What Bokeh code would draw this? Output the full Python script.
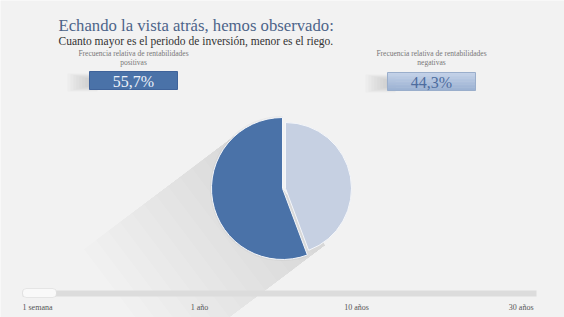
import math
from bokeh.plotting import figure
from bokeh.models import Range1d, Label, BoxAnnotation
from bokeh.embed import file_html
from bokeh.resources import INLINE

# ---- data ----
title_text = "Echando la vista atrás, hemos observado:"
subtitle_text = "Cuanto mayor es el periodo de inversión, menor es el riego."
categories = ["positivas", "negativas"]
category_caption = "Frecuencia relativa de rentabilidades"
shares = [55.7, 44.3]
share_labels = ["55,7%", "44,3%"]
slider_ticks = ["1 semana", "1 año", "10 años", "30 años"]

W, H = 564, 317
BG = "#f2f2f2"
FONT = "Liberation Serif"
DARK = "#4a72a8"
LIGHT = "#c6d0e2"


def Y(py):
    return H - py


p = figure(width=W, height=H, x_range=Range1d(0, W), y_range=Range1d(0, H),
           output_backend="svg", toolbar_location=None, min_border=0)
p.background_fill_color = BG
p.border_fill_color = BG
p.outline_line_color = None
p.axis.visible = False
p.grid.visible = False

# ---- titles ----
p.add_layout(Label(x=58, y=Y(25), text=title_text, text_font=FONT,
                   text_font_size="16.7px", text_color="#4d6489",
                   text_baseline="alphabetic"))
p.add_layout(Label(x=58, y=Y(40.5), text=subtitle_text, text_font=FONT,
                   text_font_size="11.5px", text_color="#333333",
                   text_baseline="alphabetic"))

# ---- indicator boxes ----
box_cx = [133, 431]
box_cy = [80, 81]
box_w, box_h = 88, 18
for i, cat in enumerate(categories):
    cx, cy = box_cx[i], box_cy[i]
    p.add_layout(Label(x=cx, y=Y(53), text=category_caption, text_font=FONT,
                       text_font_size="7.5px", text_color="#777777",
                       text_align="center", text_baseline="middle"))
    p.add_layout(Label(x=cx, y=Y(62), text=cat, text_font=FONT,
                       text_font_size="7.5px", text_color="#777777",
                       text_align="center", text_baseline="middle"))
    # soft shadow hugging the left edge
    for k in range(8):
        w = 30 - k * 3
        p.rect(x=cx - box_w / 2 - w / 2 + 8, y=Y(cy + 2), width=w,
               height=box_h - k * 1.5, fill_color="#7a7a7a", fill_alpha=0.04,
               line_color=None)
    if i == 0:
        p.rect(x=cx, y=Y(cy), width=box_w, height=box_h, fill_color=DARK,
               line_color="#3f639a", line_width=1)
        tcol = "#eef2fa"
    else:
        n = 12
        top = (0xc4, 0xd2, 0xe8)
        bot = (0x9c, 0xb2, 0xd3)
        for k in range(n):
            t = k / (n - 1)
            col = "#%02x%02x%02x" % tuple(int(top[j] + (bot[j] - top[j]) * t) for j in range(3))
            hh = box_h / n
            p.rect(x=cx, y=Y(cy - box_h / 2 + hh * (k + 0.5)), width=box_w, height=hh + 0.3,
                   fill_color=col, line_color=None)
        p.rect(x=cx, y=Y(cy), width=box_w, height=box_h, fill_color=None,
               line_color="#9aaecb", line_width=1)
        tcol = "#4d6c9e"
    p.add_layout(Label(x=cx, y=Y(cy + 1), text=share_labels[i], text_font=FONT,
                       text_font_size="16px", text_color=tcol,
                       text_align="center", text_baseline="middle"))

# ---- pie ----
pcx, pcy, R = 282, 188, 71
total = sum(shares)
angles = [s / total * 2 * math.pi for s in shares]
start = math.pi / 2
starts, ends = [], []
for a in angles:
    starts.append(start)
    ends.append(start + a)
    start += a

# long soft shadow toward lower-left
dang = math.radians(37)
d = (-math.cos(dang), -math.sin(dang))
perp = (math.sin(dang), -math.cos(dang))
a1 = (pcx + R * perp[0], Y(pcy) + R * perp[1])
a2 = (pcx - R * perp[0], Y(pcy) - R * perp[1])
for L in range(15, 196, 15):
    xs = [a1[0], a2[0], a2[0] + L * d[0], a1[0] + L * d[0]]
    ys = [a1[1], a2[1], a2[1] + L * d[1], a1[1] + L * d[1]]
    p.patch(xs, ys, fill_color="#7a7a7a", fill_alpha=0.013, line_color=None)
p.wedge(x=pcx, y=Y(pcy), radius=R + 1.5, start_angle=starts[0], end_angle=ends[0],
        fill_color="#909090", fill_alpha=0.10, line_color=None)

offsets = [(0, 0), (3, 0)]
radii = [R, 66]
colors = [DARK, LIGHT]
lines = ["#f4f6fa", "#f4f6fa"]
for i in range(len(shares)):
    p.wedge(x=pcx + offsets[i][0], y=Y(pcy) + offsets[i][1], radius=radii[i],
            start_angle=starts[i], end_angle=ends[i], fill_color=colors[i],
            line_color=lines[i], line_width=1)

# ---- slider ----
p.rect(x=(22 + 536) / 2, y=Y(293), width=536 - 22, height=6, fill_color="#dcdcdc",
       line_color=None)
p.add_layout(BoxAnnotation(left=22, right=56, bottom=Y(297), top=Y(288),
                           fill_color="#f9f9f9", fill_alpha=1, line_color="#bdbdbd",
                           line_width=1, border_radius=4))
tick_x = [22, 199, 356, 533]
tick_align = ["left", "center", "center", "right"]
for t, x, al in zip(slider_ticks, tick_x, tick_align):
    p.add_layout(Label(x=x, y=Y(307), text=t, text_font=FONT, text_font_size="8px",
                       text_color="#555555", text_align=al, text_baseline="middle"))

open("out.html", "w").write(file_html(p, INLINE))
